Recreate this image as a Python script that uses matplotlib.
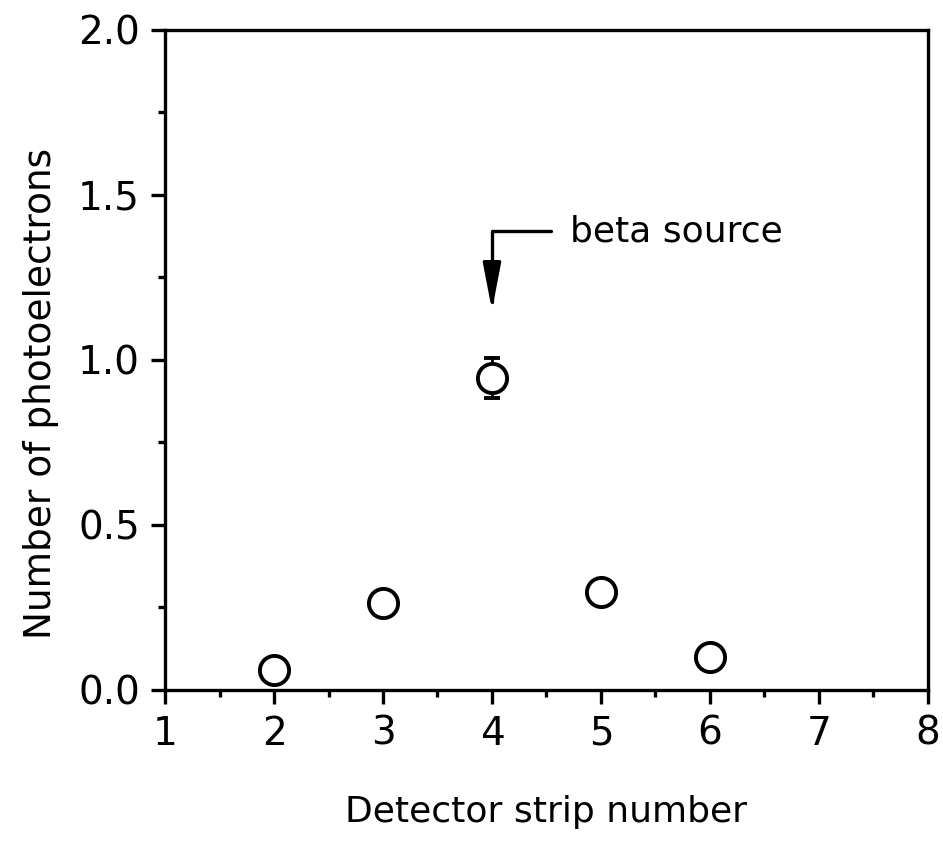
import numpy as np
import matplotlib
matplotlib.use("Agg")
import matplotlib.pyplot as plt
from matplotlib.ticker import MultipleLocator

strip = [2, 3, 4, 5, 6]
photoelectrons = [0.06, 0.265, 0.945, 0.298, 0.10]
errors = [0.0, 0.0, 0.06, 0.0, 0.0]

plt.rcParams['font.family'] = ['DejaVu Sans']

fig = plt.figure(figsize=(9.43, 8.44), dpi=100)
ax = fig.add_axes([0.175, 0.1825, 0.809, 0.782])

ax.errorbar(strip, photoelectrons, yerr=errors, fmt='o', ms=21, mfc='white',
            mec='black', mew=2.8, ecolor='black', elinewidth=2, capsize=6,
            capthick=2, clip_on=False, zorder=3)

ax.set_xlim(1, 8)
ax.set_ylim(0, 2.0)
ax.xaxis.set_major_locator(MultipleLocator(1))
ax.xaxis.set_minor_locator(MultipleLocator(0.5))
ax.yaxis.set_major_locator(MultipleLocator(0.5))
ax.yaxis.set_minor_locator(MultipleLocator(0.25))
ax.set_yticks([0, 0.5, 1.0, 1.5, 2.0])
ax.set_yticklabels(['0.0', '0.5', '1.0', '1.5', '2.0'])

for s in ax.spines.values():
    s.set_linewidth(2.4)
ax.tick_params(which='major', direction='out', length=10, width=2.4,
               labelsize=28, pad=8)
ax.tick_params(which='minor', direction='out', length=5, width=2.4)

ax.set_xlabel('Detector strip number', fontsize=26, labelpad=30)
ax.set_ylabel('Number of photoelectrons', fontsize=27, labelpad=14)
ax.yaxis.label.set_y(0.45)

ax.annotate('beta source', xy=(4.0, 1.15), xytext=(4.72, 1.39),
            fontsize=26, va='center', ha='left',
            arrowprops=dict(arrowstyle='-|>,head_length=1.15,head_width=0.22',
                            connectionstyle='angle,angleA=0,angleB=90,rad=0',
                            color='black', lw=2.4, mutation_scale=25,
                            shrinkA=12, shrinkB=0))

fig.savefig('out.png', dpi=100)
